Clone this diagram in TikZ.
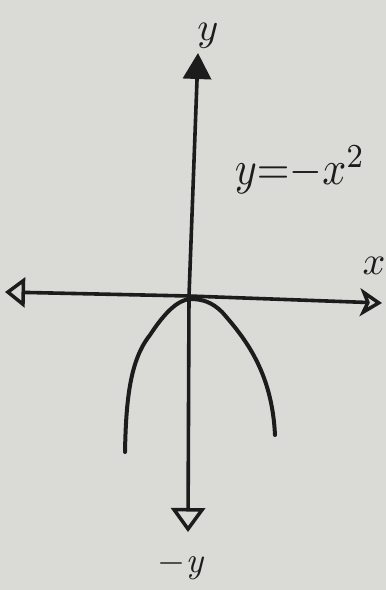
\documentclass[tikz,border=0pt]{standalone}
\usetikzlibrary{arrows.meta}
\definecolor{paper}{RGB}{218,218,214}
\definecolor{ink}{RGB}{28,28,28}
\begin{document}
\begin{tikzpicture}[x=1pt,y=-1pt,
  axis/.style={draw=ink,line width=3.6pt,line cap=round},
  curve/.style={draw=ink,line width=4pt,line cap=round,line join=round},
  lbl/.style={text=ink,inner sep=0pt}]
\fill[paper] (0,0) rectangle (386,590);
\useasboundingbox (0,0) rectangle (386,590);
% axis end points
\coordinate (ytop) at (198,53);
\coordinate (ybot) at (188,532);
\coordinate (xleft) at (5,292);
\coordinate (xright) at (382,303);
\coordinate (o) at (189,296);
% axes
\draw[axis,-{Triangle[length=26pt,width=28pt]}] (o) -- (ytop);
\draw[axis,-{Triangle[open,length=24pt,width=34pt,line width=3.5pt]}] (o) -- (ybot);
\draw[axis,-{Triangle[open,length=20pt,width=30pt,line width=3.5pt]}] (o) -- (xleft);
\draw[axis,-{Stealth[open,length=22pt,width=28pt,inset=6pt,line width=3.5pt]}] (o) -- (xright);
% parabola
\draw[curve] (125,452) .. controls (126,400) and (130,360) .. (150,335)
  .. controls (165,312) and (178,300) .. (190,299)
  .. controls (202,299) and (212,302) .. (222,312)
  .. controls (245,338) and (272,372) .. (275,435);
% labels
\node[lbl,scale=4] (ylab) at (208,36) {$y$};
\node[lbl,scale=4] (xlab) at (374,266) {$x$};
\node[lbl,scale=3.6] (nylab) at (182,565) {$\mathit{-y}$};
\node[lbl,xscale=4.2,yscale=4.8] (eq) at (300,170) {$y{=}{-}x^{2}$};
\end{tikzpicture}
\end{document}
